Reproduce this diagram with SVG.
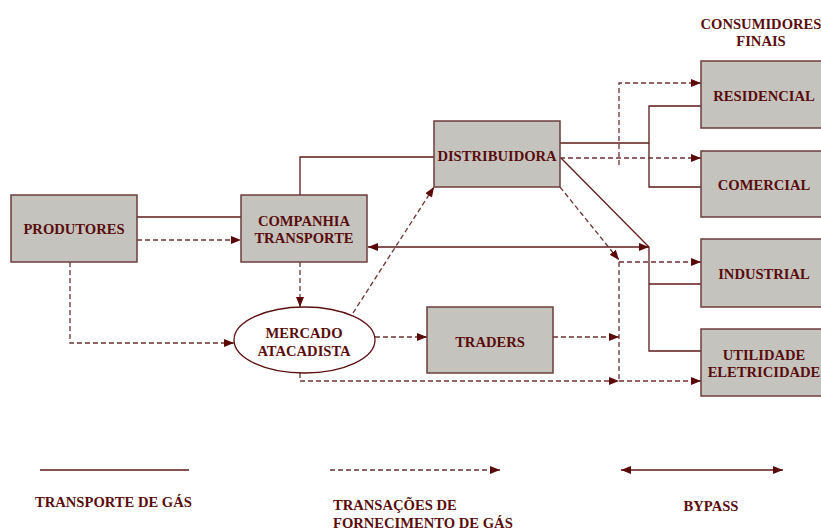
<svg xmlns="http://www.w3.org/2000/svg" width="821" height="530" viewBox="0 0 821 530">
<style>
text{font-family:"Liberation Serif","Times New Roman",serif;font-weight:bold;font-size:14.6px;fill:#5a0c0c;text-anchor:middle}
.box{fill:#c4c3be;stroke:#6e3c3c;stroke-width:1.5}
.ell{fill:#ffffff;stroke:#5a1010;stroke-width:1.3}
.s{fill:none;stroke:#5e1a1a;stroke-width:1.3}
.d{fill:none;stroke:#6e3030;stroke-width:1.3;stroke-dasharray:5 3}
.l{text-anchor:start}
</style>
<defs>
<marker id="a" markerUnits="userSpaceOnUse" markerWidth="11" markerHeight="9" refX="10" refY="4" orient="auto-start-reverse" viewBox="0 0 11 9">
<path d="M0,0 L10,4 L0,8 z" fill="#5a0808"/>
</marker>
</defs>
<g id="connectors">
<line class="s" x1="137" y1="217" x2="241" y2="217"/>
<polyline class="s" points="300,195 300,157 434,157"/>
<line class="s" x1="560" y1="143" x2="649" y2="143"/>
<polyline class="s" points="701,106 649,106 649,187 701,187"/>
<polyline class="s" points="561,158 649,247 649,351 701,351"/>
<line class="s" x1="649" y1="284" x2="701" y2="284"/>
<line class="s" x1="368" y1="247" x2="649" y2="247" marker-start="url(#a)" marker-end="url(#a)"/>
<line class="d" x1="137" y1="240" x2="241" y2="240" marker-end="url(#a)"/>
<polyline class="d" points="70,262 70,343 234,343" marker-end="url(#a)"/>
<line class="d" x1="300" y1="262" x2="300" y2="307" marker-end="url(#a)"/>
<line class="d" x1="353" y1="313" x2="434" y2="187" marker-end="url(#a)"/>
<line class="d" x1="375" y1="337" x2="427" y2="337" marker-end="url(#a)"/>
<line class="d" x1="553" y1="337" x2="619" y2="337" marker-end="url(#a)"/>
<polyline class="d" points="300,373 300,381 619,381" marker-end="url(#a)"/>
<line class="d" x1="619" y1="381" x2="701" y2="381" marker-end="url(#a)"/>
<line class="d" x1="560" y1="158" x2="701" y2="158" marker-end="url(#a)"/>
<polyline class="d" points="619,165 619,83 701,83" marker-end="url(#a)"/>
<line class="d" x1="560" y1="187" x2="619" y2="260" marker-end="url(#a)"/>
<line class="d" x1="619" y1="262" x2="619" y2="381"/>
<line class="d" x1="619" y1="262" x2="701" y2="262" marker-end="url(#a)"/>
</g>
<g id="produtores"><rect class="box" x="11" y="195" width="126" height="67"/><text x="74" y="234">PRODUTORES</text></g>
<g id="companhia"><rect class="box" x="241" y="195" width="126" height="67"/><text x="304" y="226">COMPANHIA</text><text x="304" y="243">TRANSPORTE</text></g>
<g id="mercado"><ellipse class="ell" cx="304.5" cy="340" rx="70.5" ry="33"/><text x="304" y="338">MERCADO</text><text x="304" y="356">ATACADISTA</text></g>
<g id="distribuidora"><rect class="box" x="434" y="121" width="126" height="66"/><text x="497" y="161">DISTRIBUIDORA</text></g>
<g id="traders"><rect class="box" x="427" y="307" width="126" height="66"/><text x="490" y="347">TRADERS</text></g>
<g id="consumidores"><text x="761" y="29">CONSUMIDORES</text><text x="761" y="46">FINAIS</text></g>
<g id="residencial"><rect class="box" x="701" y="61" width="126" height="67"/><text x="764" y="101">RESIDENCIAL</text></g>
<g id="comercial"><rect class="box" x="701" y="151" width="126" height="66"/><text x="764" y="190">COMERCIAL</text></g>
<g id="industrial"><rect class="box" x="701" y="239" width="126" height="68"/><text x="764" y="279">INDUSTRIAL</text></g>
<g id="utilidade"><rect class="box" x="701" y="329" width="126" height="67"/><text x="764" y="360">UTILIDADE</text><text x="764" y="377">ELETRICIDADE</text></g>
<g id="legend">
<line class="s" x1="40" y1="470" x2="189" y2="470"/>
<line class="d" x1="330" y1="470" x2="500" y2="470" marker-end="url(#a)"/>
<line class="s" x1="621" y1="470" x2="783" y2="470" marker-start="url(#a)" marker-end="url(#a)"/>
<text class="l" x="35" y="507">TRANSPORTE DE GÁS</text>
<text class="l" x="333" y="510">TRANSAÇÕES DE</text>
<text class="l" x="333" y="528">FORNECIMENTO DE GÁS</text>
<text x="711" y="511">BYPASS</text>
</g>
</svg>
